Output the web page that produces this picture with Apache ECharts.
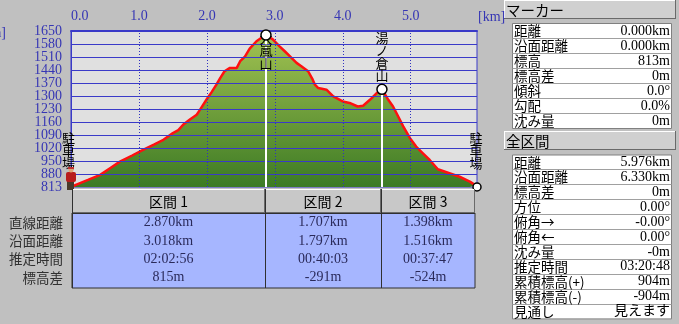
<!DOCTYPE html>
<html><head><meta charset="utf-8">
<script src="https://cdn.jsdelivr.net/npm/echarts@6/dist/echarts.min.js"></script>
<style>html,body{margin:0;padding:0;background:#c0c0c0;}#c{width:679px;height:324px;}</style>
</head><body><div id="c"></div>
<script>
// ---- data ----
const distKm = [0,0.08,0.25,0.43,0.58,0.72,0.9,1.06,1.22,1.36,1.50,1.58,1.65,1.75,1.85,1.90,2.00,2.07,2.14,2.20,2.26,2.34,2.44,2.49,2.56,2.63,2.73,2.83,2.87,2.97,3.07,3.15,3.22,3.32,3.39,3.49,3.55,3.59,3.64,3.76,3.86,4.00,4.10,4.22,4.30,4.40,4.50,4.577,4.64,4.67,4.74,4.79,4.89,4.99,5.08,5.18,5.28,5.40,5.57,5.72,5.87,5.95,5.976];
const elevM = [813,826,851,878,915,949,982,1012,1040,1066,1102,1118,1147,1175,1201,1228,1285,1322,1362,1400,1434,1452,1452,1488,1513,1555,1595,1620,1628,1605,1568,1540,1515,1479,1461,1434,1395,1362,1344,1335,1299,1272,1264,1245,1249,1281,1317,1337,1299,1281,1245,1210,1138,1075,1030,994,958,908,887,868,842,823,813];
const yTicks = [813,880,950,1020,1090,1160,1230,1300,1370,1440,1510,1580,1650];
const xTicks = [0,1,2,3,4,5];
const totalKm = 5.976;
const pointNames = ['駐車場','大嵐山','湯ノ倉山','駐車場'];
const pointKm = [0, 2.870, 4.577, 5.976];
const pointElev = [813, 1628, 1337, 813];
const sectionNames = ['区間 1','区間 2','区間 3'];
const sectionRowLabels = ['直線距離','沿面距離','推定時間','標高差'];
const sectionStraight = ['2.870km','1.707km','1.398km'];
const sectionSurface = ['3.018km','1.797km','1.516km'];
const sectionTime = ['02:02:56','00:40:03','00:37:47'];
const sectionDiff = ['815m','-291m','-524m'];
const markerTitle = 'マーカー';
const markerLabels = ['距離','沿面距離','標高','標高差','傾斜','勾配','沈み量'];
const markerValues = ['0.000km','0.000km','813m','0m','0.0°','0.0%','0m'];
const totalTitle = '全区間';
const totalLabels = ['距離','沿面距離','標高差','方位','俯角→','俯角←','沈み量','推定時間','累積標高(+)','累積標高(-)','見通し'];
const totalValues = ['5.976km','6.330km','0m','0.00°','-0.00°','0.00°','-0m','03:20:48','904m','-904m','見えます'];

// ---- style ----
const SERIF = "'Liberation Serif','Noto Sans CJK JP',serif";
const JP = "'Noto Sans CJK JP',sans-serif";
const BLUE = '#3636b4';
const GRIDBLUE = '#3a3ac8';

const chart = echarts.init(document.getElementById('c'), null, {renderer:'canvas'});
const profile = distKm.map((d,i)=>[d, elevM[i]]);
const points = pointKm.map((d,i)=>[d, pointElev[i]]);
const yTicksA = yTicks.filter((v,i)=>i%2===0);
const yTicksB = yTicks.filter((v,i)=>i%2===1);
const yLabelStyle = {formatter:v=>String(v), showMinLabel:true, showMaxLabel:true, hideOverlap:false,
      color:BLUE, fontFamily:SERIF, fontSize:14, margin:9};

chart.setOption({
  animation:false,
  backgroundColor:'#c0c0c0',
  grid:{left:71, top:31, right:202, bottom:137, show:true, backgroundColor:'#e0e0e0', borderColor:GRIDBLUE, borderWidth:1},
  xAxis:{type:'value', position:'top', min:0, max:totalKm, interval:1,
    axisLine:{show:true, onZero:false, lineStyle:{color:GRIDBLUE, width:2}}, axisTick:{show:false},
    axisLabel:{formatter:v=>v.toFixed(1), color:BLUE, fontFamily:SERIF, fontSize:14, margin:8, showMaxLabel:false, alignMinLabel:'left'},
    splitLine:{show:false}},
  yAxis:[
    {type:'value', min:813, max:1650, position:'left',
     axisLine:{show:true, lineStyle:{color:GRIDBLUE}}, axisTick:{show:false, customValues:yTicksA},
     axisLabel:Object.assign({customValues:yTicksA}, yLabelStyle), splitLine:{show:false}},
    {type:'value', min:813, max:1650, position:'left', offset:0,
     axisLine:{show:false}, axisTick:{show:false, customValues:yTicksB},
     axisLabel:Object.assign({customValues:yTicksB}, yLabelStyle), splitLine:{show:false}}
  ],
  series:[
    {type:'line', data:profile, symbol:'none', z:2, silent:true,
     lineStyle:{width:0, opacity:0},
     areaStyle:{origin:'start', opacity:1, color:new echarts.graphic.LinearGradient(0,0,0,1,[{offset:0,color:'#a2c252'},{offset:1,color:'#3c7a24'}])}},
    {type:'line', data:profile, symbol:'none', z:3, silent:true, lineStyle:{opacity:0, width:0},
     markLine:{silent:true, symbol:['none','none'], label:{show:false}, animation:false,
       lineStyle:{color:GRIDBLUE, width:1, type:'solid'},
       data: yTicks.slice(1,-1).map(v=>({yAxis:v})).concat(
             xTicks.slice(1).map(v=>({xAxis:v, lineStyle:{type:[1,2], color:'#3030c0', width:1}})))}},
    {type:'line', data:profile, symbol:'none', z:4, silent:true,
     lineStyle:{color:'#ff1010', width:2.5},
     markLine:{silent:true, symbol:['none','none'], label:{show:false},
       lineStyle:{color:'#ffffff', width:2, type:'solid'},
       data:[[{coord:[pointKm[1],pointElev[1]]},{coord:[pointKm[1],813]}],[{coord:[pointKm[2],pointElev[2]]},{coord:[pointKm[2],813]}]]}},
    {type:'custom', z:5, clip:false, data:points, silent:true,
     renderItem:(params, api)=>{
       const p = api.coord([api.value(0), api.value(1)]);
       const name = pointNames[params.dataIndex];
       const lh = 12.3, h = name.length*lh;
       const gap = (params.dataIndex===0 || params.dataIndex===3) ? 18 : 9;
       const top = Math.max(p[1]-gap-h, params.coordSys.y+1);
       const dx = params.dataIndex===0 ? -2.5 : (params.dataIndex===3 ? -1 : 0);
       return {type:'text', style:{text:name.split('').join('\n'), x:p[0]+dx, y:top, align:'center', verticalAlign:'top', fontSize:13, fontFamily:JP, lineHeight:lh, fill:'#000'}};
     }},
    {type:'scatter', z:6, silent:true, data:points.slice(1), symbol:'circle',
     symbolSize:(v,p)=>p.dataIndex===2?8:10,
     itemStyle:{color:'#ffffff', borderColor:'#000', borderWidth:1.5, opacity:1}},
    {type:'custom', z:7, clip:false, silent:true, data:[points[0]],
     renderItem:(params, api)=>{
       const p = api.coord([api.value(0), api.value(1)]);
       return {type:'group', children:[
         {type:'rect', shape:{x:p[0]-4, y:p[1]-6, width:7, height:9}, style:{fill:'#4a3a2a'}},
         {type:'rect', shape:{x:p[0]-5, y:p[1]-15, width:10, height:10, r:2}, style:{fill:'#b81c1c'}},
         {type:'circle', shape:{cx:p[0], cy:p[1]-17, r:2.5}, style:{fill:'#e0a878'}},
         {type:'rect', shape:{x:p[0]-3, y:p[1]-20, width:6, height:2}, style:{fill:'#c03030'}}
       ]};
     }}
  ]
});

const px = km => chart.convertToPixel({xAxisIndex:0}, km);
const py = v => chart.convertToPixel({yAxisIndex:0}, v);

const G = [];
function txt(x,y,text,o){G.push({type:'text', silent:true, z:100, style:Object.assign({text, x, y, fill:'#000', fontSize:13, fontFamily:JP, align:'left', verticalAlign:'middle'}, o||{})});}
function rect(x,y,w,h,fill,stroke,lw){G.push({type:'rect', silent:true, z:90, shape:{x,y,width:w,height:h}, style:{fill:fill||'none', stroke:stroke||null, lineWidth:lw||1}});}
function line(x1,y1,x2,y2,stroke,w){G.push({type:'line', silent:true, z:95, shape:{x1,y1,x2,y2}, style:{stroke, lineWidth:w||1}});}
function bevel(x,y,w,h,fill){rect(x,y,w,h,fill); line(x+0.5,y+h,x+0.5,y+0.5,'#ffffff'); line(x,y+0.5,x+w,y+0.5,'#ffffff'); line(x+w-0.5,y,x+w-0.5,y+h,'#6a6a6a'); line(x,y+h-0.5,x+w,y+h-0.5,'#6a6a6a');}

// axis unit labels
txt(6,33,'[m]',{fill:BLUE, fontFamily:SERIF, fontSize:14, align:'right'});
txt(478,17,'[km]',{fill:BLUE, fontFamily:SERIF, fontSize:14});

// bottom section table
const xb = [px(pointKm[0]), px(pointKm[1]), px(pointKm[2]), px(pointKm[3])];
const yBase = py(813);
const hTop = Math.round(yBase)+2, hBot = 213, tBot = 288;
rect(xb[0]+1, hBot, xb[3]-2-(xb[0]+1), tBot-hBot, '#a6b6ff', '#303030');
for (let i=0;i<3;i++){
  const x1 = Math.round(i===0 ? xb[0]+1 : xb[i]-1), x2 = Math.round(i===2 ? xb[3]-2 : xb[i+1]-1);
  bevel(x1, hTop, x2-x1, hBot-hTop, '#c8c8c8');
  line(x1+0.5, hTop, x1+0.5, tBot, '#303030');
  txt((x1+x2)/2, (hTop+hBot)/2+0.5, sectionNames[i], {align:'center', fontSize:14});
  const cols = [sectionStraight[i], sectionSurface[i], sectionTime[i], sectionDiff[i]];
  cols.forEach((t,r)=>txt((x1+x2)/2, 222.5+r*18.4, t, {align:'center', fontFamily:SERIF, fontSize:14, fill:'#2a2a5a'}));
}
line(xb[0]+1, hBot+0.5, xb[3]-2, hBot+0.5, '#303030');
sectionRowLabels.forEach((t,r)=>txt(63, 222.5+r*18.4, t, {align:'right', fontSize:13.5, fill:'#303030'}));

// right panel
function panel(title, ty, labels, values, top, pitch){
  bevel(504, ty, 172, 19, '#d0d0d0');
  txt(506, ty+10, title, {fontSize:14.5});
  const h = labels.length*pitch;
  rect(512.5, top+0.5, 159, h, '#ffffff', '#808080');
  for (let i=1;i<labels.length;i++) line(512.5, Math.round(top+i*pitch)+0.5, 671.5, Math.round(top+i*pitch)+0.5, '#a0a0a0');
  labels.forEach((t,i)=>{
    const cy = top+i*pitch+pitch/2+0.5;
    txt(514, cy, t, {fontSize:13.5});
    txt(670, cy, values[i], {align:'right', fontFamily:SERIF, fontSize:14});
  });
}
panel(markerTitle, 0, markerLabels, markerValues, 23, 15);
panel(totalTitle, 131, totalLabels, totalValues, 154.5, 14.9);

chart.setOption({graphic:{elements:G}});
</script></body></html>
